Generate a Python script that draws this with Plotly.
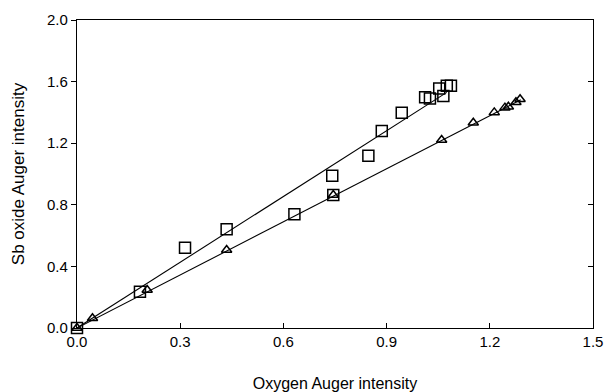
import plotly.graph_objects as go

# Data
sq_x = [0.0, 0.183, 0.314, 0.435, 0.632, 0.742, 0.745, 0.847, 0.886, 0.944,
        1.012, 1.026, 1.053, 1.065, 1.075, 1.087]
sq_y = [0.0, 0.236, 0.521, 0.641, 0.738, 0.989, 0.864, 1.119, 1.279, 1.398,
        1.498, 1.491, 1.556, 1.506, 1.573, 1.573]

tri_x = [0.0, 0.045, 0.204, 0.435, 0.745, 1.060, 1.152, 1.213, 1.244, 1.254,
         1.276, 1.288]
tri_y = [0.0, 0.063, 0.247, 0.506, 0.864, 1.221, 1.333, 1.400, 1.431, 1.437,
         1.466, 1.485]

# fitted lines (end points)
sq_fit_x = [0.0, 1.075]
sq_fit_y = [0.0, 1.53]
tri_fit_x = [0.0, 1.29]
tri_fit_y = [0.0, 1.482]

x_ticks = [0.0, 0.3, 0.6, 0.9, 1.2, 1.5]
x_tick_text = ["0.0", "0.3", "0.6", "0.9", "1.2", "1.5"]
y_ticks = [0.0, 0.4, 0.8, 1.2, 1.6, 2.0]
y_tick_text = ["0.0", "0.4", "0.8", "1.2", "1.6", "2.0"]

FONT = "Liberation Sans"
fig = go.Figure()

fig.add_trace(go.Scatter(x=sq_fit_x, y=sq_fit_y, mode="lines",
                         line=dict(color="black", width=1.1), showlegend=False))
fig.add_trace(go.Scatter(x=tri_fit_x, y=tri_fit_y, mode="lines",
                         line=dict(color="black", width=1.1), showlegend=False))
fig.add_trace(go.Scatter(x=sq_x, y=sq_y, mode="markers",
                         marker=dict(symbol="square-open", size=11, color="black",
                                     line=dict(width=1.5)), showlegend=False,
                         cliponaxis=False))
fig.add_trace(go.Scatter(x=tri_x, y=tri_y, mode="markers",
                         marker=dict(symbol="triangle-up-open", size=9, color="black",
                                     line=dict(width=1.5)), showlegend=False,
                         cliponaxis=False))
# dummy trace to activate the right axis
fig.add_trace(go.Scatter(x=[None], y=[None], yaxis="y2", showlegend=False))

fig.update_layout(
    width=606, height=392,
    margin=dict(l=77, r=13, t=20, b=64),
    paper_bgcolor="white", plot_bgcolor="white",
    font=dict(family=FONT, size=15, color="black"),
    xaxis=dict(range=[0, 1.5], tickvals=x_ticks, ticktext=x_tick_text,
               automargin=False,
               showgrid=False, zeroline=False, showline=True, linecolor="black",
               linewidth=1.2, mirror=True, ticks="inside", ticklen=5,
               tickcolor="black",
               title=dict(text="Oxygen Auger intensity", standoff=28,
                          font=dict(size=16))),
    yaxis=dict(range=[0, 2.0], tickvals=y_ticks, ticktext=y_tick_text,
               automargin=False,
               showgrid=False, zeroline=False, showline=True, linecolor="black",
               linewidth=1.2, mirror=True, ticks="outside", ticklen=5,
               tickcolor="black",
               title=dict(text="Sb oxide Auger intensity", standoff=18,
                          font=dict(size=17))),
    yaxis2=dict(range=[0, 2.0], tickvals=y_ticks, overlaying="y", side="right",
                automargin=False,
                showticklabels=False, showgrid=False, zeroline=False,
                ticks="inside", ticklen=5, tickcolor="black", showline=False),
)

fig.write_html("out.html")
